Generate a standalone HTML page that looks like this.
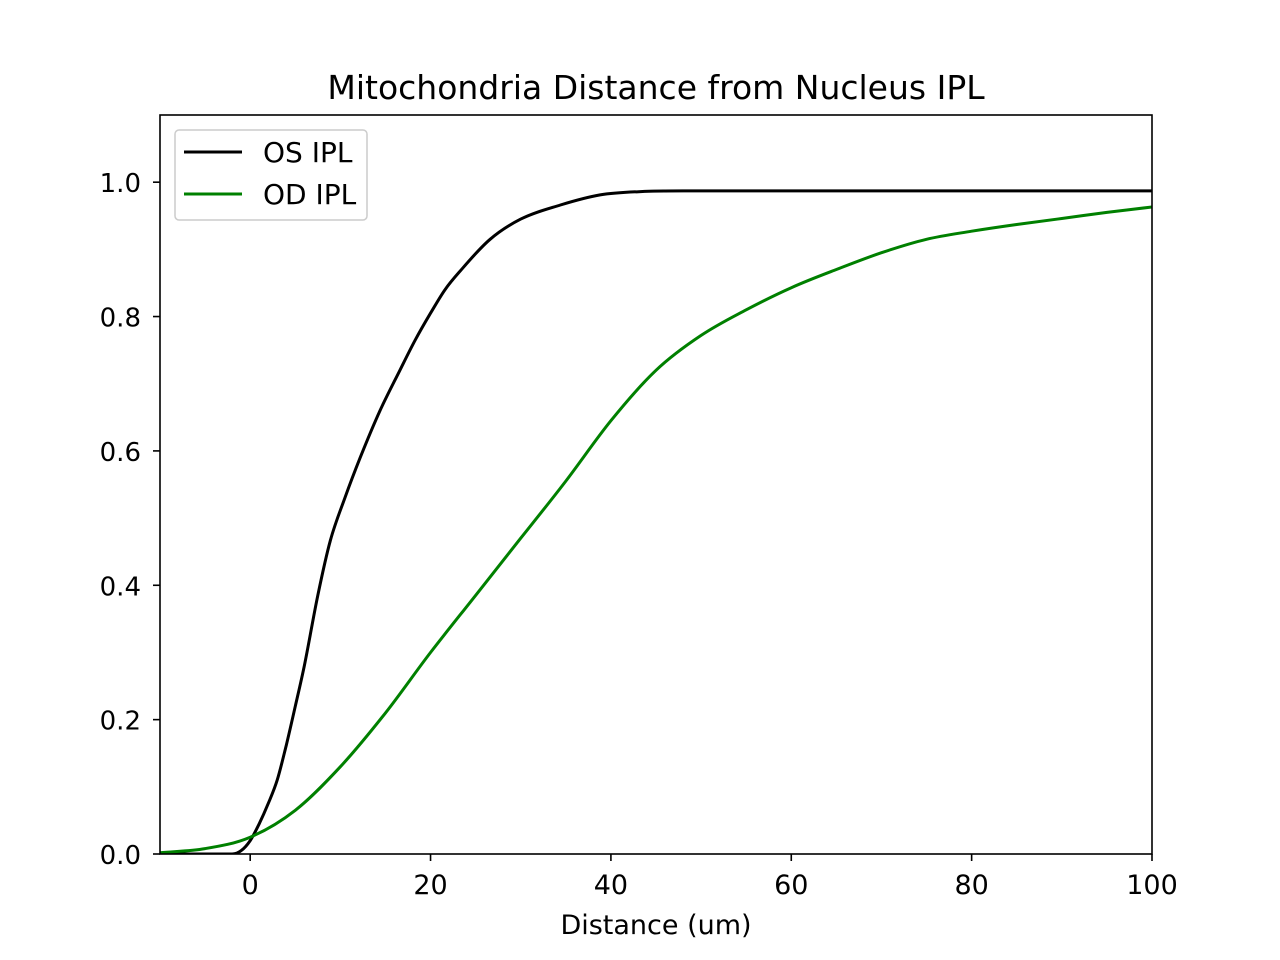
<!DOCTYPE html>
<html><head><meta charset="utf-8">
<style>
body{margin:0;background:#fff;}
svg{display:block;font-family:"DejaVu Sans","Liberation Sans",sans-serif;}
</style></head>
<body>
<svg id="chart" width="1280" height="960">
<text x="656" y="99" text-anchor="middle" font-size="33">Mitochondria Distance from Nucleus IPL</text>
<g id="plot"></g>
<text x="656" y="934" text-anchor="middle" font-size="27">Distance (um)</text>
</svg>
<script>
const osX=[-10,-2,-1,0,1,2,3,4,5,6,7.5,8.9,10.5,12.2,14.4,16.6,18.3,20,21.6,23.3,26.6,30,34.4,38.8,43.3,50,100];
const osY=[0,0,0.005,0.02,0.045,0.075,0.11,0.162,0.22,0.28,0.385,0.467,0.53,0.59,0.66,0.72,0.765,0.805,0.84,0.868,0.915,0.945,0.966,0.981,0.986,0.987,0.987];
const odX=[-10,-5,0,5,10,15,20,25,30,35,40,45,50,55,60,65,70,75,80,85,90,95,100];
const odY=[0.002,0.008,0.025,0.065,0.13,0.21,0.30,0.385,0.47,0.555,0.645,0.72,0.772,0.81,0.843,0.87,0.895,0.915,0.927,0.937,0.946,0.955,0.963];
const xTicks=[0,20,40,60,80,100];
const yTicks=[0.0,0.2,0.4,0.6,0.8,1.0];
const L=160,R=1152,T=115,B=854,xmin=-10,xmax=100,ymin=0,ymax=1.1;
const sx=v=>L+(v-xmin)/(xmax-xmin)*(R-L);
const sy=v=>B-(v-ymin)/(ymax-ymin)*(B-T);
const NS="http://www.w3.org/2000/svg";
const g=document.getElementById('plot');
function mk(tag,attrs,parent){const e=document.createElementNS(NS,tag);for(const k in attrs)e.setAttribute(k,attrs[k]);(parent||g).appendChild(e);return e;}
function smoothPath(xs,ys){
  const n=xs.length,d=[],m=[];
  for(let i=0;i<n-1;i++)d.push((ys[i+1]-ys[i])/(xs[i+1]-xs[i]));
  m[0]=d[0];m[n-1]=d[n-2];
  for(let i=1;i<n-1;i++)m[i]=(d[i-1]*d[i]<=0)?0:(d[i-1]+d[i])/2;
  let p='M'+sx(xs[0]).toFixed(1)+','+sy(ys[0]).toFixed(1);
  for(let i=0;i<n-1;i++){
    const h=xs[i+1]-xs[i];
    const x1=xs[i]+h/3,y1=ys[i]+m[i]*h/3,x2=xs[i+1]-h/3,y2=ys[i+1]-m[i+1]*h/3;
    p+=' C'+sx(x1).toFixed(1)+','+sy(y1).toFixed(1)+' '+sx(x2).toFixed(1)+','+sy(y2).toFixed(1)+' '+sx(xs[i+1]).toFixed(1)+','+sy(ys[i+1]).toFixed(1);
  }
  return p;
}
const cp=mk('clipPath',{id:'clip'});mk('rect',{x:L,y:T,width:R-L,height:B-T},cp);
const lg=mk('g',{'clip-path':'url(#clip)'});
function line2(xs,ys,color,name){
  const p=mk('path',{d:smoothPath(xs,ys),fill:'none',stroke:color,'stroke-width':3,'stroke-linejoin':'round'},lg);
  
  
}
line2(osX,osY,'#000','os-ipl-line');
line2(odX,odY,'#008000','od-ipl-line');
const frame=mk('rect',{x:L,y:T,width:R-L,height:B-T,fill:'none',stroke:'#000','stroke-width':1.6});


xTicks.forEach(v=>{
  mk('line',{x1:sx(v),x2:sx(v),y1:B,y2:B+7,stroke:'#000','stroke-width':1.6});
  const t=mk('text',{x:sx(v),y:B+40,'text-anchor':'middle','font-size':27});t.textContent=v;
  
  
});
yTicks.forEach(v=>{
  mk('line',{x1:L-7,x2:L,y1:sy(v),y2:sy(v),stroke:'#000','stroke-width':1.6});
  const t=mk('text',{x:L-19,y:sy(v)+10,'text-anchor':'end','font-size':26});t.textContent=v.toFixed(1);
  
  
});
const leg=mk('g',{});


mk('rect',{x:175,y:130,width:192,height:90,rx:4,fill:'#fff',stroke:'#ccc','stroke-width':1.5},leg);
[['OS IPL','#000',152],['OD IPL','#008000',194]].forEach(([n,c,y])=>{
  mk('line',{x1:184,x2:242,y1:y,y2:y,stroke:c,'stroke-width':3},leg);
  const t=mk('text',{x:263,y:y+10,'font-size':28},leg);t.textContent=n;
  
  
});
</script>
</body></html>
